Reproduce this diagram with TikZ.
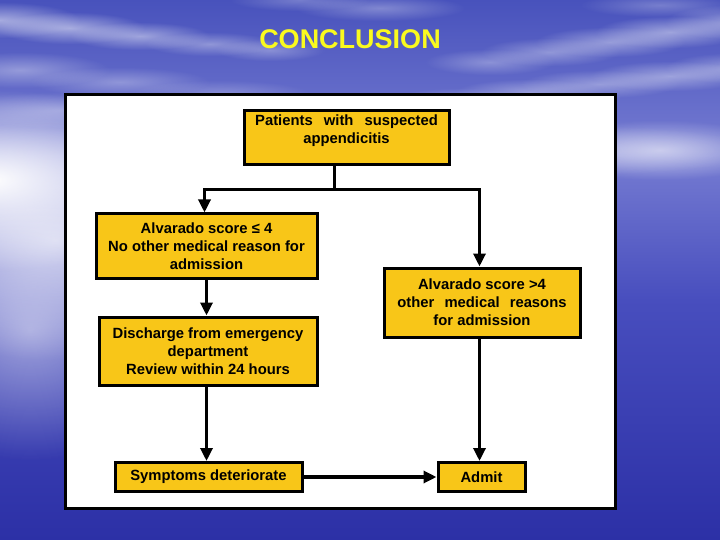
\documentclass[tikz,border=0pt]{standalone}
\usepackage{fontspec}
\setmainfont{Liberation Sans}
\usetikzlibrary{arrows.meta,fadings}
\definecolor{boxyellow}{RGB}{248,198,24}
\definecolor{skytop}{RGB}{72,82,188}
\definecolor{horizon}{RGB}{118,124,210}
\definecolor{seamid}{RGB}{72,78,190}
\definecolor{seabot}{RGB}{44,48,166}
\definecolor{titleyellow}{RGB}{250,250,30}
\tikzfading[name=glow, inner color=transparent!0, outer color=transparent!100]
\tikzset{
  box/.style={draw=black, line width=3pt, fill=boxyellow, inner sep=0pt,
    align=center, font=\fontsize{14.8}{18}\selectfont\bfseries},
  arr/.style={line width=3.2pt, -{Triangle[length=13pt,width=12pt]}},
  conn/.style={line width=3.2pt},
  cloud/.style={white, path fading=glow}
}
\begin{document}
\begin{tikzpicture}[x=1pt,y=-1pt]
\useasboundingbox (0,0) rectangle (720,540);
% background
\shade[top color=horizon, bottom color=seamid] (0,155) rectangle (720,300);
\shade[top color=seamid, bottom color=seabot] (0,299) rectangle (720,540);
\shade[top color=skytop, bottom color=horizon] (0,0) rectangle (720,156);
% horizon glows
\fill[cloud, opacity=1] (-220,90) rectangle (200,270);
\fill[cloud, opacity=0.7] (-150,120) rectangle (260,360);
\fill[cloud, opacity=0.5] (-120,200) rectangle (180,460);
\fill[cloud, opacity=0.55] (540,120) rectangle (780,180);
\fill[cloud, opacity=0.3] (380,125) rectangle (760,175);
% cloud streaks (upper left, sloping down)
\foreach \cx/\cy/\w/\h/\op in {0/20/160/36/0.5, 70/28/150/32/0.5, 140/36/140/28/0.45,
    210/44/130/24/0.35, 270/50/110/22/0.3, 20/70/180/36/0.35, 120/82/180/30/0.3,
    220/94/180/28/0.25, 60/110/220/36/0.3, 380/8/170/26/0.3, 300/0/140/22/0.25} {
  \fill[cloud, opacity=\op] (\cx-\w/2,\cy-\h/2) rectangle (\cx+\w/2,\cy+\h/2);
}
% cloud streaks (right, rising)
\foreach \cx/\cy/\w/\h/\op in {490/62/130/26/0.3, 550/52/140/28/0.35, 610/42/150/30/0.4,
    670/32/150/32/0.45, 730/22/130/34/0.4, 460/100/140/24/0.3, 530/92/150/26/0.35,
    600/84/160/28/0.35, 670/76/160/30/0.4, 730/68/130/30/0.35, 660/5/160/24/0.25} {
  \fill[cloud, opacity=\op] (\cx-\w/2,\cy-\h/2) rectangle (\cx+\w/2,\cy+\h/2);
}
% title
\node[anchor=base, text=titleyellow, font=\fontsize{27}{30}\selectfont\bfseries] (title) at (350,48.5) {CONCLUSION};
% panel
\draw[line width=3pt, fill=white] (65.5,94.5) rectangle (615.5,508.5);
% boxes
\node[box, minimum width=205pt, minimum height=54pt,
  label={[font=\fontsize{14.8}{18}\selectfont\bfseries, align=center, yshift=7pt]center:Patients\hspace{7pt} with\hspace{7pt} suspected\\appendicitis}]
  (top) at (346.5,138) {};
\node[box, minimum width=221pt, minimum height=64pt] (b2) at (206.5,246)
  {Alvarado score ≤ 4\\No other medical reason for\\admission};
\node[box, minimum width=196pt, minimum height=69pt] (b3) at (482,302.5)
  {Alvarado score >4\\other\hspace{6pt} medical\hspace{6pt} reasons\\for admission};
\node[box, minimum width=218pt, minimum height=68pt] (b4) at (208,351)
  {Discharge from emergency\\department\\Review within 24 hours};
\node[box, minimum width=187pt, minimum height=29pt] (b5) at (208.5,477)
  {Symptoms deteriorate};
\node[box, minimum width=87pt, minimum height=29pt] (b6) at (481.5,477)
  {Admit};
% connectors
\coordinate (split) at (334.5,189.5);
\coordinate (jl) at (204.5,189.5);
\coordinate (jr) at (479.5,189.5);
\draw[conn] (top.south -| split) -- (split);
\draw[conn, line cap=rect] (jl) -- (jr);
\draw[arr] (jl) -- (jl |- b2.north);
\draw[arr] (jr) -- (jr |- b3.north);
\draw[arr] (b2.south) -- (b2.south |- b4.north);
\draw[arr] (b4.south -| b2.south) -- (b2.south |- b5.north);
\draw[arr] (b3.south -| jr) -- (jr |- b6.north);
\draw[arr] (b5.east) -- (b5.east -| b6.west);
\end{tikzpicture}
\end{document}
